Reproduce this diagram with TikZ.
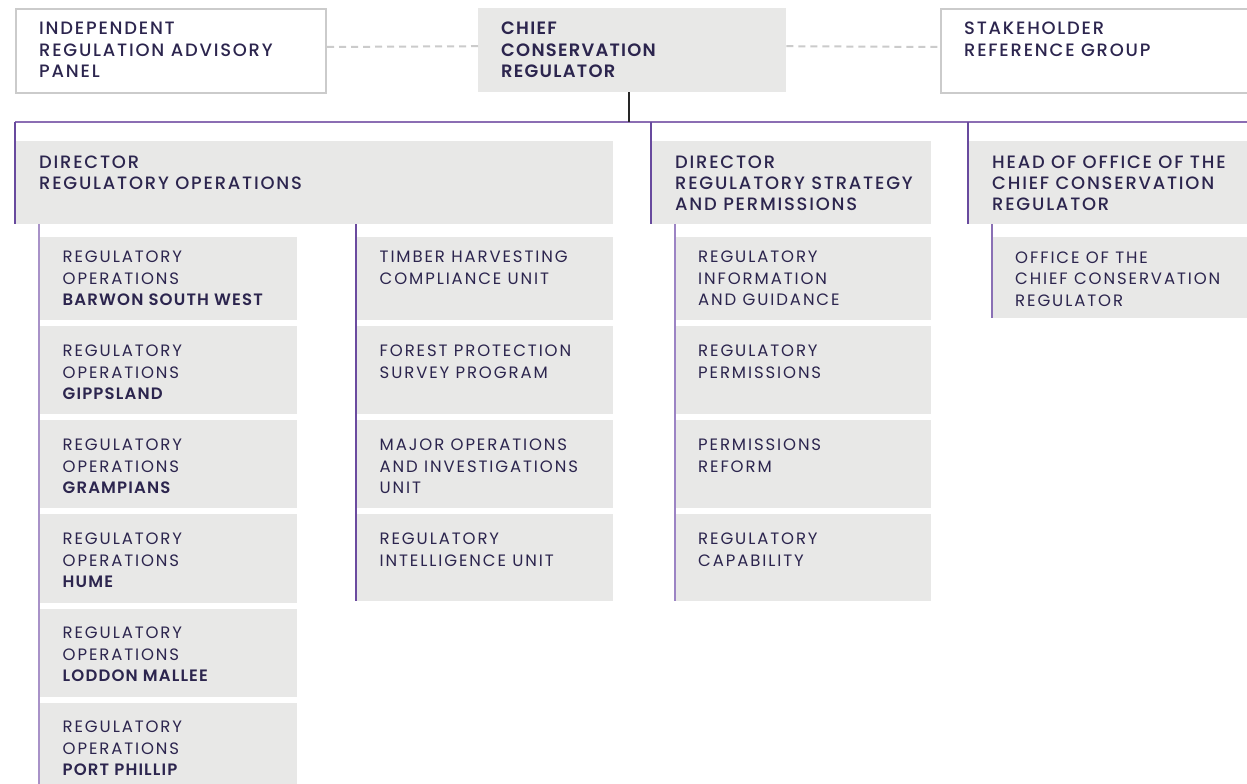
\documentclass[tikz,border=0pt]{standalone}
\usepackage{fontspec}
\setmainfont{Poppins}[LetterSpace=11.5]
\newfontfamily\pmed{Poppins Medium}[LetterSpace=10]
\newfontfamily\psemi{Poppins SemiBold}[LetterSpace=7]
\usetikzlibrary{calc}
\definecolor{textc}{RGB}{44,37,78}
\definecolor{boxg}{RGB}{232,232,231}
\definecolor{bord}{RGB}{203,203,203}
\definecolor{busc}{RGB}{139,109,179}
\definecolor{dirc}{RGB}{104,74,158}
\definecolor{colA}{RGB}{168,146,200}
\definecolor{colB}{RGB}{107,75,159}
\definecolor{colC}{RGB}{156,132,196}
\definecolor{colD}{RGB}{138,112,181}
\tikzset{
  graybox/.style={fill=boxg, draw=none, inner sep=0, anchor=north west},
  whitebox/.style={fill=white, draw=bord, line width=2pt, inner sep=0, anchor=north west},
  lbl/.style={inner sep=0, align=left, anchor=base west, text=textc,
     font=\fontsize{16.5}{21.5}\selectfont},
  hlbl/.style={lbl, font=\fontsize{17.9}{21.2}\selectfont\pmed},
  blbl/.style={lbl, font=\fontsize{17.9}{21.2}\selectfont\psemi},
  busline/.style={draw=busc, line width=2.2pt},
  blkline/.style={draw=black!85, line width=1.5pt},
  dirline/.style={draw=dirc, line width=1.6pt},
  dashline/.style={draw=bord, line width=2pt, dash pattern=on 7pt off 5pt},
}
\begin{document}
\begin{tikzpicture}[x=1pt,y=-1pt]
\clip (0,0) rectangle (1247,784);
\fill[white] (0,0) rectangle (1247,784);
% top row (text nodes anchored at the baseline of their last line)
\node[whitebox, minimum width=310, minimum height=84] (ciap) at (15,8) {};
\node[graybox, minimum width=308, minimum height=84] (ccr) at (478,8) {};
\node[whitebox, minimum width=330, minimum height=84] (srg) at (940,8) {};
\node[hlbl] (ciapt) at (39,77.4) {INDEPENDENT\\REGULATION ADVISORY\\PANEL};
\node[blbl] (ccrt) at (501,77.4) {CHIEF\\CONSERVATION\\REGULATOR};
\node[hlbl] (srgt) at (964,56.2) {STAKEHOLDER\\REFERENCE GROUP};
\draw[dashline] ([yshift=4pt]ciap.east) -- ([yshift=4pt]ccr.west);
\draw[dashline] ([yshift=4pt]ccr.east) -- ([yshift=4pt]srg.west);
% directors
\node[graybox, minimum width=598, minimum height=83] (dro) at (15,141) {};
\node[graybox, minimum width=280, minimum height=83] (drsp) at (651,141) {};
\node[graybox, minimum width=300, minimum height=83] (hoo) at (968,141) {};
\node[hlbl] (drot) at (39,189.5) {DIRECTOR\\REGULATORY OPERATIONS};
\node[hlbl] (drspt) at (675,210.7) {DIRECTOR\\REGULATORY STRATEGY\\AND PERMISSIONS};
\node[hlbl] (hoot) at (992,210.7) {HEAD OF OFFICE OF THE\\CHIEF CONSERVATION\\REGULATOR};
% bus
\coordinate (busL) at (15,122);
\coordinate (busR) at (1247,122);
\draw[busline] (busL) -- (busR);
\draw[blkline] ([xshift=-3pt]ccr.south) -- ([xshift=-3pt]ccr.south |- busL);
\draw[dirline] (dro.south west |- busL) -- (dro.south west);
\draw[dirline] (drsp.south west |- busL) -- (drsp.south west);
\draw[dirline] (hoo.south west |- busL) -- (hoo.south west);
% column 1
\node[graybox, minimum width=258, minimum height=83] (a1) at (39,237) {};
\node[graybox, minimum width=258, minimum height=88] (a2) at (39,326) {};
\node[graybox, minimum width=258, minimum height=88] (a3) at (39,420) {};
\node[graybox, minimum width=258, minimum height=89] (a4) at (39,514) {};
\node[graybox, minimum width=258, minimum height=88] (a5) at (39,609) {};
\node[graybox, minimum width=258, minimum height=90] (a6) at (39,703) {};
\node[lbl] (a1t) at (62.5,305.5) {REGULATORY\\OPERATIONS\\{\psemi BARWON SOUTH WEST}};
\node[lbl] (a2t) at (62.5,399.5) {REGULATORY\\OPERATIONS\\{\psemi GIPPSLAND}};
\node[lbl] (a3t) at (62.5,493.5) {REGULATORY\\OPERATIONS\\{\psemi GRAMPIANS}};
\node[lbl] (a4t) at (62.5,587.5) {REGULATORY\\OPERATIONS\\{\psemi HUME}};
\node[lbl] (a5t) at (62.5,681.5) {REGULATORY\\OPERATIONS\\{\psemi LODDON MALLEE}};
\node[lbl] (a6t) at (62.5,775.5) {REGULATORY\\OPERATIONS\\{\psemi PORT PHILLIP}};
\draw[draw=colA, line width=2pt] (a1.north west |- dro.south) -- (a6.south west);
% column 2
\node[graybox, minimum width=257, minimum height=83] (b1) at (356,237) {};
\node[graybox, minimum width=257, minimum height=88] (b2) at (356,326) {};
\node[graybox, minimum width=257, minimum height=88] (b3) at (356,420) {};
\node[graybox, minimum width=257, minimum height=87] (b4) at (356,514) {};
\node[lbl] (b1t) at (379.5,284) {TIMBER HARVESTING\\COMPLIANCE UNIT};
\node[lbl] (b2t) at (379.5,378) {FOREST PROTECTION\\SURVEY PROGRAM};
\node[lbl] (b3t) at (379.5,493.5) {MAJOR OPERATIONS\\AND INVESTIGATIONS\\UNIT};
\node[lbl] (b4t) at (379.5,566) {REGULATORY\\INTELLIGENCE UNIT};
\draw[draw=colB, line width=1.6pt] (b1.north west |- dro.south) -- (b4.south west);
% column 3
\node[graybox, minimum width=256, minimum height=83] (c1) at (675,237) {};
\node[graybox, minimum width=256, minimum height=88] (c2) at (675,326) {};
\node[graybox, minimum width=256, minimum height=88] (c3) at (675,420) {};
\node[graybox, minimum width=256, minimum height=87] (c4) at (675,514) {};
\node[lbl] (c1t) at (698,305.5) {REGULATORY\\INFORMATION\\AND GUIDANCE};
\node[lbl] (c2t) at (698,378) {REGULATORY\\PERMISSIONS};
\node[lbl] (c3t) at (698,472) {PERMISSIONS\\REFORM};
\node[lbl] (c4t) at (698,566) {REGULATORY\\CAPABILITY};
\draw[draw=colC, line width=1.8pt] (c1.north west |- drsp.south) -- (c4.south west);
% column 4
\node[graybox, minimum width=280, minimum height=81] (d1) at (992,237) {};
\node[lbl] (d1t) at (1015,306.3) {OFFICE OF THE\\CHIEF CONSERVATION\\REGULATOR};
\draw[draw=colD, line width=1.6pt] (d1.north west |- hoo.south) -- (d1.south west);
\end{tikzpicture}
\end{document}
